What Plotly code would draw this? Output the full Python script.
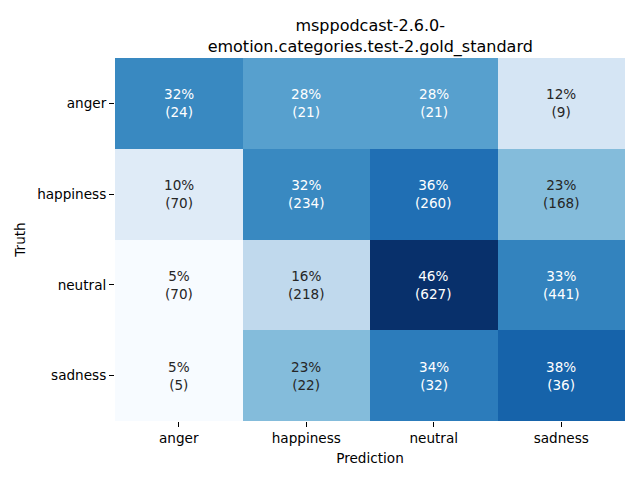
import plotly.graph_objects as go

labels = ["anger", "happiness", "neutral", "sadness"]
percent = [
    [32, 28, 28, 12],
    [10, 32, 36, 23],
    [5, 16, 46, 33],
    [5, 23, 34, 38],
]
counts = [
    [24, 21, 21, 9],
    [70, 234, 260, 168],
    [70, 218, 627, 441],
    [5, 22, 32, 36],
]

blues = ["#f7fbff", "#deebf7", "#c6dbef", "#9ecae1", "#6baed6",
         "#4292c6", "#2171b5", "#08519c", "#08306b"]
colorscale = [[i / 8, c] for i, c in enumerate(blues)]

zmin = min(min(r) for r in percent)
zmax = max(max(r) for r in percent)

FS = 13.6

fig = go.Figure(go.Heatmap(
    z=percent, x=labels, y=labels, colorscale=colorscale,
    zmin=zmin, zmax=zmax, showscale=False, xgap=0, ygap=0,
    hoverinfo="skip",
))

annotations = []
for i, row in enumerate(percent):
    for j, p in enumerate(row):
        frac = (p - zmin) / (zmax - zmin)
        col = "white" if frac > 0.45 else "#262626"
        annotations.append(dict(
            x=labels[j], y=labels[i], text=f"{p}%<br>({counts[i][j]})",
            showarrow=False, font=dict(color=col, size=FS, family="DejaVu Sans"),
        ))

fig.update_layout(
    width=640, height=480,
    margin=dict(l=115, r=15, t=58, b=59),
    paper_bgcolor="white", plot_bgcolor="white",
    font=dict(family="DejaVu Sans", size=FS, color="black"),
    title=dict(text="msppodcast-2.6.0-<br>emotion.categories.test-2.gold_standard",
               x=0.5785, xanchor="center", y=0.935, yanchor="top",
               font=dict(size=16, color="black")),
    annotations=annotations,
    xaxis=dict(title=dict(text="Prediction", standoff=8, font=dict(size=FS)),
               ticks="outside", ticklen=5, automargin=False,
               tickfont=dict(size=FS),
               tickcolor="black", showgrid=False, zeroline=False),
    yaxis=dict(title=dict(text="Truth", standoff=8, font=dict(size=FS)),
               ticks="outside", ticklen=5, automargin=False,
               tickfont=dict(size=FS),
               tickcolor="black", autorange="reversed", showgrid=False, zeroline=False),
)

fig.write_html("out.html", config={"displayModeBar": False},
               post_script="document.body.style.margin='0';")
